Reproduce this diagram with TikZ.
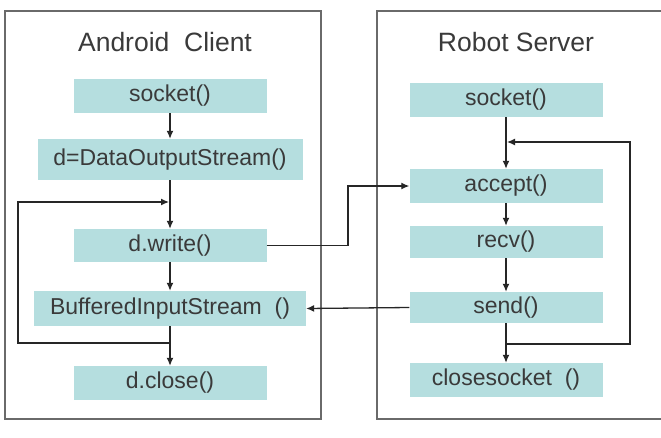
\documentclass[tikz,border=0pt]{standalone}
\usepackage{fontspec}
\setmainfont{Liberation Sans}
\usetikzlibrary{arrows.meta}
\definecolor{boxc}{HTML}{B5DEDF}
\definecolor{txtc}{HTML}{3A3A3A}
\definecolor{panelc}{HTML}{6A6A6A}
\begin{document}
\begin{tikzpicture}[x=1pt,y=-1pt,
  panel/.style={draw=panelc,line width=1.6pt},
  fbox/.style={fill=boxc,inner sep=0pt,text=txtc,font=\fontsize{23}{23}\selectfont},
  title/.style={text=txtc,font=\fontsize{26.5}{26.5}\selectfont},
  conn/.style={draw=black!85,line width=1.3pt},
  arr/.style={conn,-{Latex[length=8pt,width=7pt]}}]
\useasboundingbox (0,0) rectangle (661,437);
\clip (0,0) rectangle (661,437);
\fill[white] (0,0) rectangle (661,437);
\draw[panel] (5,11) rectangle (321,419);
\draw[panel] (377,11) rectangle (690,419);
\node[title] (lt) at (165,42) {Android\ \ Client};
\node[title] (rt) at (516,42) {Robot Server};
% left
\node[fbox,minimum width=193pt,minimum height=34pt] (ls) at (170,96) {socket()};
\node[fbox,minimum width=265pt,minimum height=41pt] (ld) at (170,159.5) {d=DataOutputStream()};
\node[fbox,minimum width=193pt,minimum height=33pt] (lw) at (170,245.5) {d.write()};
\node[fbox,minimum width=272pt,minimum height=35pt] (lb) at (170,308.5) {BufferedInputStream\ \ ()};
\node[fbox,minimum width=193pt,minimum height=34pt] (lc) at (170,383) {d.close()};
% right
\node[fbox,minimum width=193pt,minimum height=34pt] (rs) at (506,100) {socket()};
\node[fbox,minimum width=193pt,minimum height=34pt] (ra) at (506,186) {accept()};
\node[fbox,minimum width=193pt,minimum height=32pt] (rr) at (506,242) {recv()};
\node[fbox,minimum width=193pt,minimum height=31pt] (rd) at (506,307.5) {send()};
\node[fbox,minimum width=193pt,minimum height=34pt] (rc) at (506,380) {closesocket\ \ ()};
% coordinates
\coordinate (lj1) at (170,202);
\coordinate (lj2) at (170,343);
\coordinate (lk1) at (18,202);
\coordinate (lk2) at (18,343);
\coordinate (rj1) at (506,142);
\coordinate (rj2) at (506,344);
\coordinate (rk1) at (630,142);
\coordinate (rk2) at (630,344);
\coordinate (cx) at (348,0);
% left flow
\draw[arr] (ls) -- (ld);
\draw[arr] (ld) -- (lw);
\draw[arr] (lw) -- (lb);
\draw[arr] (lb) -- (lc);
\draw[arr] (lj2) -- (lk2) -- (lk1) -- ([xshift=-1pt]lj1);
% right flow
\draw[arr] (rs) -- (ra);
\draw[arr] (ra) -- (rr);
\draw[arr] (rr) -- (rd);
\draw[arr] (rd) -- (rc);
\draw[arr] (rj2) -- (rk2) -- (rk1) -- ([xshift=1pt]rj1);
% cross
\draw[arr] (lw.east) -- (lw.east -| cx) -- (ra.west -| cx) -- (ra.west);
\draw[arr] (rd.west) -- (lb.east);
\end{tikzpicture}
\end{document}
